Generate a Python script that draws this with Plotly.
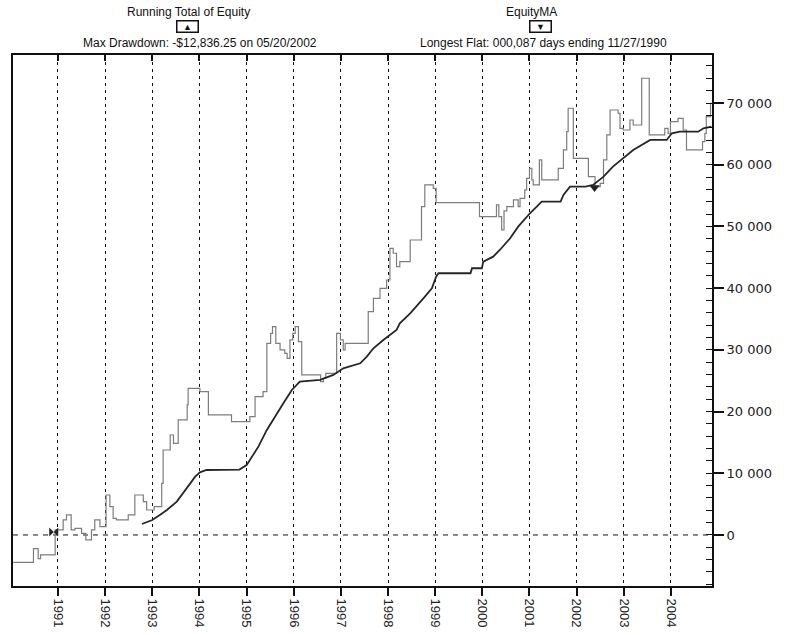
import plotly.graph_objects as go

# ---------------- data ----------------
equity_years = [1990.05, 1990.48, 1990.58, 1990.63, 1990.94, 1991.11, 1991.18, 1991.28, 1991.36, 1991.50,
                1991.59, 1991.71, 1991.78, 1991.89, 1992.02, 1992.10, 1992.17, 1992.24, 1992.49, 1992.63,
                1992.81, 1992.88, 1993.04, 1993.20, 1993.23, 1993.38, 1993.45, 1993.55, 1993.74, 1993.76,
                1994.01, 1994.19, 1994.68, 1995.07, 1995.18, 1995.35, 1995.43, 1995.51, 1995.55, 1995.62,
                1995.71, 1995.81, 1995.86, 1995.92, 1995.98, 1996.03, 1996.10, 1996.17, 1996.57, 1996.63,
                1996.68, 1996.91, 1996.99, 1997.05, 1997.09, 1997.58, 1997.69, 1997.83, 1997.97, 1998.04,
                1998.11, 1998.18, 1998.25, 1998.47, 1998.71, 1998.78, 1998.96, 1999.02, 1999.94, 2000.30,
                2000.35, 2000.41, 2000.46, 2000.52, 2000.66, 2000.76, 2000.80, 2000.90, 2000.94, 2001.00,
                2001.05, 2001.08, 2001.21, 2001.26, 2001.61, 2001.72, 2001.79, 2001.82, 2001.93, 2002.25,
                2002.39, 2002.50, 2002.57, 2002.64, 2002.71, 2002.88, 2002.92, 2002.99, 2003.13, 2003.20,
                2003.38, 2003.54, 2003.87, 2003.94, 2003.99, 2004.15, 2004.26, 2004.33, 2004.67, 2004.72,
                2004.75, 2004.84, 2004.87]
equity_values = [-4430, -2210, -3830, -3240, 810, 2430, 3240, 810, 1080, 270,
                 -810, 810, 2430, 1350, 6480, 4590, 2700, 2430, 3240, 6480,
                 5400, 4050, 4590, 8370, 13770, 16200, 14850, 18640, 21070, 23770,
                 23230, 19450, 18370, 19180, 22420, 23230, 31060, 32680, 33760, 31060,
                 29980, 29440, 28630, 31600, 32680, 33760, 31330, 25930, 24850, 25390,
                 26200, 32680, 31600, 29980, 31060, 36190, 38350, 39970, 41320, 46450,
                 45650, 43480, 44290, 47800, 53200, 56720, 56180, 53850, 51580, 53480,
                 51580, 49430, 52510, 53200, 54290, 53200, 54560, 55910, 57800, 59420,
                 57530, 56720, 60770, 57530, 59420, 62390, 65360, 69150, 61040, 58070,
                 56440, 56990, 60770, 64820, 68870, 68330, 65900, 65630, 67250, 66440,
                 74010, 64820, 65900, 65090, 66980, 67520, 65630, 62390, 63740, 65090,
                 67790, 69960, 69960]

# corner points of the moving-average curve (its fine monthly stairs read as ramps)
ma_years = [1992.78, 1993.00, 1993.16, 1993.31, 1993.52, 1993.76, 1993.91, 1994.01, 1994.15, 1994.85,
            1995.00, 1995.07, 1995.25, 1995.43, 1995.60, 1995.78, 1995.96, 1996.13, 1996.56, 1996.84,
            1997.05, 1997.41, 1997.55, 1997.69, 1997.90, 1998.18, 1998.25, 1998.47, 1998.75, 1998.93,
            1999.02, 1999.07, 1999.75, 1999.78, 1999.99, 2000.02, 2000.23, 2000.37, 2000.59, 2000.76,
            2001.01, 2001.26, 2001.66, 2001.72, 2001.86, 2002.19, 2002.35, 2002.57, 2002.77, 2002.99,
            2003.20, 2003.56, 2003.91, 2004.02, 2004.19, 2004.58, 2004.69, 2004.86]
ma_values = [1780, 2430, 3240, 4050, 5400, 7830, 9450, 10150, 10530, 10600,
             11340, 12150, 14310, 17020, 19180, 21340, 23500, 24850, 25120, 25930,
             27010, 27820, 28900, 30250, 31600, 33220, 34300, 35920, 38350, 39970,
             41860, 42410, 42410, 43220, 43220, 44290, 45100, 46180, 48080, 49960,
             52130, 54010, 54010, 55100, 56440, 56440, 56720, 58070, 59690, 61040,
             62390, 64010, 64010, 65090, 65360, 65360, 65900, 66170]

flat_end_year = [1990.91]      # 11/27/1990
flat_end_value = [500]
drawdown_year = [2002.38]      # 05/20/2002
drawdown_value = [56300]

year_ticks = list(range(1991, 2005))
year_labels = [str(y) for y in year_ticks]
y_ticks = [0, 10000, 20000, 30000, 40000, 50000, 60000, 70000]
y_labels = ["0", "10 000", "20 000", "30 000", "40 000", "50 000", "60 000", "70 000"]

header_left = "Running Total of Equity"
header_left_sub = "Max Drawdown: -$12,836.25 on 05/20/2002"
header_right = "EquityMA"
header_right_sub = "Longest Flat: 000,087 days ending 11/27/1990"

# ---------------- geometry ----------------
W, H = 804, 635
L, R, T, B = 13, 712, 55, 586
X_RANGE = [1990.046, 2004.871]
Y_RANGE = [-8270, 77780]
FONT = "Liberation Sans, Arial, sans-serif"


def px(x, y):
    return (x - L) / (R - L), (B - y) / (B - T)


fig = go.Figure()

fig.add_trace(go.Scatter(x=equity_years, y=equity_values, mode="lines", line_shape="hv",
                         line=dict(color="#7d7d7d", width=1.2), name=header_left, showlegend=False))
fig.add_trace(go.Scatter(x=ma_years, y=ma_values, mode="lines", line_shape="linear",
                         line=dict(color="#262626", width=1.8), name=header_right, showlegend=False))
fig.add_trace(go.Scatter(x=flat_end_year, y=flat_end_value, mode="markers",
                         marker=dict(symbol="bowtie", size=9, color="#222"), showlegend=False))
fig.add_trace(go.Scatter(x=drawdown_year, y=drawdown_value, mode="markers",
                         marker=dict(symbol="triangle-down", size=9, color="#222"), showlegend=False))
# dummy trace to carry the top tick axis
fig.add_trace(go.Scatter(x=[X_RANGE[0]], y=[None], xaxis="x2", mode="lines", showlegend=False,
                         hoverinfo="skip"))

fig.add_hline(y=0, line=dict(color="#111", width=1, dash="5px,5px"), layer="below")

fig.update_layout(
    width=W, height=H,
    margin=dict(l=L, r=W - R, t=T, b=H - B, pad=0, autoexpand=False),
    paper_bgcolor="white", plot_bgcolor="white",
    font=dict(family=FONT, color="#111"),
    xaxis=dict(range=X_RANGE, tickvals=year_ticks, ticktext=year_labels, tickangle=90,
               ticks="outside", ticklen=8, tickwidth=1.5, tickcolor="#111", automargin=False,
               tickfont=dict(size=13, family=FONT, color="#222"),
               showgrid=True, gridcolor="#111", gridwidth=1, griddash="3px,4px",
               showline=True, linecolor="#111", linewidth=2, mirror=True, zeroline=False),
    xaxis2=dict(range=X_RANGE, overlaying="x", side="top", tickvals=year_ticks, automargin=False,
                ticks="inside", ticklen=6, tickwidth=1.5, tickcolor="#111",
                showticklabels=False, showgrid=False, showline=False, zeroline=False),
    yaxis=dict(range=Y_RANGE, side="right", tickvals=y_ticks, ticktext=y_labels, automargin=False,
               ticks="outside", ticklen=10, tickwidth=1.5, tickcolor="#111",
               tickfont=dict(size=13, family="DejaVu Sans, sans-serif", color="#222"),
               minor=dict(dtick=2000, tick0=0, ticks="inside", ticklen=6, tickwidth=1.2, tickcolor="#111"),
               showgrid=False, showline=True, linecolor="#111", linewidth=2, mirror=True, zeroline=False),
)

ann = []
x0, y0 = px(188, 12)
ann.append(dict(x=x0, y=y0, text=header_left, font=dict(size=12, family=FONT, color="#111")))
x0, y0 = px(187, 27)
ann.append(dict(x=x0, y=y0, text="▲", font=dict(size=9, color="#111"), bordercolor="#111",
                borderwidth=1.5, borderpad=0, width=20, height=10, valign="bottom"))
x0, y0 = px(200, 43)
ann.append(dict(x=x0, y=y0, text=header_left_sub, font=dict(size=12, family=FONT, color="#111")))
x0, y0 = px(531, 12)
ann.append(dict(x=x0, y=y0, text=header_right, font=dict(size=12, family=FONT, color="#111")))
x0, y0 = px(540, 27)
ann.append(dict(x=x0, y=y0, text="▼", font=dict(size=9, color="#111"), bordercolor="#111",
                borderwidth=1.5, borderpad=0, width=20, height=10, valign="top"))
x0, y0 = px(543, 43)
ann.append(dict(x=x0, y=y0, text=header_right_sub, font=dict(size=12, family=FONT, color="#111")))
for a in ann:
    a.update(xref="paper", yref="paper", showarrow=False, xanchor="center", yanchor="middle")
fig.update_layout(annotations=ann)

fig.write_html("out.html", config={"displayModeBar": False},
               post_script="document.body.style.margin='0';document.body.style.padding='0';")
